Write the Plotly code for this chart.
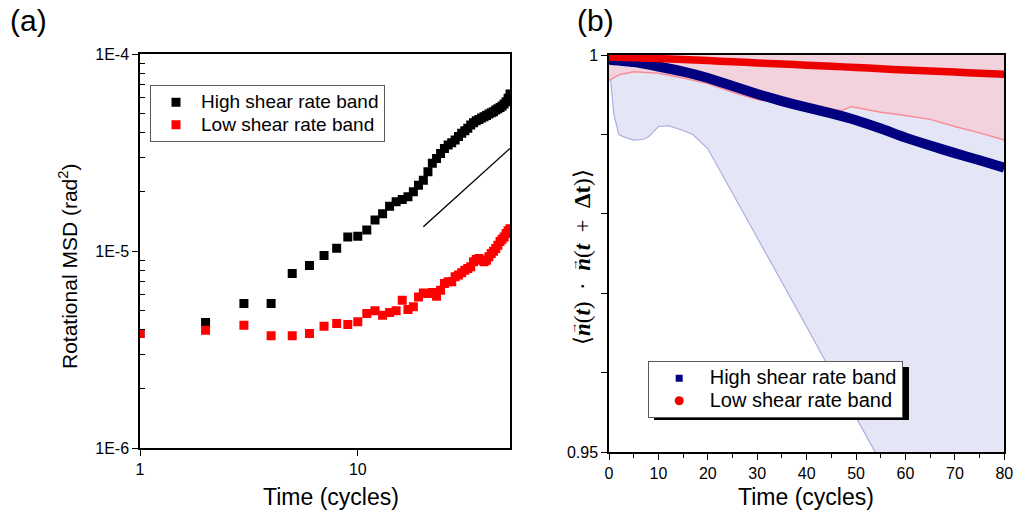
import plotly.graph_objects as go

W, H = 1019, 516
FONT = "Arial, Liberation Sans, sans-serif"
SERIF = "Liberation Serif, Times New Roman, serif"

# ---------------- Panel (a) data : rotational MSD ----------------
cycles_a = list(range(1, 51))
msd_high = [3.82e-6, 4.35e-6, 5.42e-6, 5.42e-6, 7.70e-6, 8.46e-6, 9.51e-6, 1.035e-5, 1.18e-5, 1.19e-5,
            1.28e-5, 1.44e-5, 1.55e-5, 1.69e-5, 1.78e-5, 1.83e-5, 1.89e-5, 2.00e-5, 2.16e-5, 2.29e-5,
            2.53e-5, 2.79e-5, 2.95e-5, 3.13e-5, 3.32e-5, 3.45e-5, 3.55e-5, 3.66e-5, 3.81e-5, 3.96e-5,
            4.08e-5, 4.20e-5, 4.36e-5, 4.48e-5, 4.59e-5, 4.66e-5, 4.73e-5, 4.81e-5, 4.88e-5, 4.96e-5,
            5.04e-5, 5.10e-5, 5.20e-5, 5.28e-5, 5.36e-5, 5.45e-5, 5.58e-5, 5.73e-5, 5.96e-5, 6.27e-5]
msd_low = [3.82e-6, 3.97e-6, 4.21e-6, 3.72e-6, 3.72e-6, 3.82e-6, 4.16e-6, 4.29e-6, 4.24e-6, 4.38e-6,
           4.83e-6, 4.98e-6, 4.73e-6, 4.88e-6, 4.98e-6, 5.64e-6, 5.06e-6, 5.22e-6, 5.86e-6, 6.14e-6,
           6.10e-6, 6.17e-6, 5.91e-6, 6.34e-6, 6.85e-6, 6.99e-6, 6.99e-6, 7.41e-6, 7.56e-6, 7.76e-6,
           8.01e-6, 8.17e-6, 8.33e-6, 8.83e-6, 9.07e-6, 9.18e-6, 9.00e-6, 8.83e-6, 9.00e-6, 9.36e-6,
           9.73e-6, 1.00e-5, 1.03e-5, 1.07e-5, 1.12e-5, 1.15e-5, 1.18e-5, 1.23e-5, 1.27e-5, 1.30e-5]
guide_x = [20, 50]
guide_y = [1.33e-5, 3.32e-5]

a_xticks = [1, 10]
a_xticktext = ["1", "10"]
a_xminor = [2, 3, 4, 5, 6, 7, 8, 9, 20, 30, 40]
a_yticks = [1e-6, 1e-5, 1e-4]
a_yticktext = ["1E-6", "1E-5", "1E-4"]
a_yminor = [2e-6, 3e-6, 4e-6, 5e-6, 6e-6, 7e-6, 8e-6, 9e-6,
            2e-5, 3e-5, 4e-5, 5e-5, 6e-5, 7e-5, 8e-5, 9e-5]

# ---------------- Panel (b) data : orientation correlation ----------------
time_b = [0, 5, 10, 15, 20, 25, 30, 35, 40, 45, 50, 55, 60, 65, 70, 75, 80]
corr_high = [0.9994, 0.9991, 0.99855, 0.9979, 0.9971, 0.9961, 0.9951, 0.9942, 0.9934,
             0.99265, 0.9918, 0.99075, 0.9896, 0.9886, 0.98765, 0.98675, 0.9858]
corr_low = [0.99975, 0.99965, 0.99955, 0.99943, 0.9993, 0.99915, 0.9990, 0.99886, 0.99872,
            0.99858, 0.99843, 0.99828, 0.9981, 0.99798, 0.99785, 0.99771, 0.99757]

band_high_t = [0, 0.5, 1, 2, 3, 5, 7, 8, 10, 12, 15, 17, 20, 30, 40, 50, 60, 70, 80]
band_high_lower = [0.9990, 0.9960, 0.9925, 0.9900, 0.9897, 0.9893, 0.9894, 0.9897, 0.9910, 0.9911,
                   0.9905, 0.9900, 0.9882, 0.9770, 0.9658, 0.9544, 0.9431, 0.9318, 0.9205]
band_high_upper = [0.9997, 1.0022, 1.0058, 1.0082, 1.0085, 1.0088, 1.0085, 1.0082, 1.0060, 1.0057,
                   1.0054, 1.0056, 1.0058, 1.0130, 1.0208, 1.0292, 1.0359, 1.0436, 1.0511]

band_low_t = [0, 2, 5, 10, 15, 20, 25, 30, 35, 40, 45, 47, 49, 50, 55, 60, 65, 70, 75, 80]
band_low_lower = [0.9968, 0.9975, 0.9979, 0.9977, 0.9971, 0.9964, 0.9953, 0.9944, 0.9939, 0.9934,
                  0.9931, 0.9930, 0.9935, 0.9934, 0.9928, 0.9924, 0.9919, 0.9910, 0.9902, 0.9893]
band_low_upper = [1.0027, 1.0018, 1.0014, 1.0014, 1.0018, 1.0022, 1.0030, 1.0036, 1.0038, 1.0040,
                  1.0041, 1.0041, 1.0035, 1.0034, 1.0037, 1.0038, 1.0041, 1.0047, 1.0052, 1.0058]

b_xticks = [0, 10, 20, 30, 40, 50, 60, 70, 80]
b_xminor = [5, 15, 25, 35, 45, 55, 65, 75]
b_yticks = [0.95, 1.0]
b_yticktext = ["0.95", "1"]
b_yminor = [0.96, 0.97, 0.98, 0.99]

names = ["High shear rate band", "Low shear rate band"]

NAVY = "rgb(0,0,128)"
RED = "rgb(236,0,0)"
LAVENDER = "rgb(228,230,246)"
PINK = "rgb(241,210,221)"


def legend_name(s, size):
    return "<span style='font-size:%dpx'>%s</span>" % (size, s)


fig = go.Figure()

# ---- panel (a) ----
fig.add_trace(go.Scatter(x=cycles_a, y=msd_high, mode="markers", name=legend_name(names[0], 19),
                         marker=dict(symbol="square", size=9, color="black"),
                         xaxis="x", yaxis="y", legend="legend"))
fig.add_trace(go.Scatter(x=cycles_a, y=msd_low, mode="markers", name=legend_name(names[1], 19),
                         marker=dict(symbol="square", size=9, color="rgb(255,0,0)"),
                         xaxis="x", yaxis="y", legend="legend"))
fig.add_trace(go.Scatter(x=guide_x, y=guide_y, mode="lines", showlegend=False,
                         line=dict(color="black", width=1.4), xaxis="x", yaxis="y"))

# ---- panel (b) ----
fig.add_trace(go.Scatter(x=band_high_t + band_high_t[::-1],
                         y=band_high_upper + band_high_lower[::-1],
                         fill="toself", fillcolor=LAVENDER, line=dict(width=0),
                         mode="lines", showlegend=False, hoverinfo="skip",
                         xaxis="x2", yaxis="y2"))
fig.add_trace(go.Scatter(x=band_high_t, y=band_high_lower, mode="lines", showlegend=False,
                         line=dict(color="rgb(172,172,226)", width=1.2),
                         xaxis="x2", yaxis="y2"))
fig.add_trace(go.Scatter(x=band_low_t + band_low_t[::-1],
                         y=band_low_upper + band_low_lower[::-1],
                         fill="toself", fillcolor=PINK, line=dict(width=0),
                         mode="lines", showlegend=False, hoverinfo="skip",
                         xaxis="x2", yaxis="y2"))
fig.add_trace(go.Scatter(x=band_low_t, y=band_low_lower, mode="lines", showlegend=False,
                         line=dict(color="rgb(250,140,150)", width=1.5),
                         xaxis="x2", yaxis="y2"))
fig.add_trace(go.Scatter(x=time_b, y=corr_high, mode="lines", showlegend=False,
                         line=dict(color=NAVY, width=10, shape="spline", smoothing=0.5),
                         xaxis="x2", yaxis="y2"))
fig.add_trace(go.Scatter(x=time_b, y=corr_low, mode="lines", showlegend=False,
                         line=dict(color=RED, width=7.5, shape="spline", smoothing=0.5),
                         xaxis="x2", yaxis="y2"))
# legend entries for panel (b)
fig.add_trace(go.Scatter(x=[None], y=[None], mode="markers", name=legend_name(names[0], 20),
                         marker=dict(symbol="square", size=7, color=NAVY),
                         xaxis="x2", yaxis="y2", legend="legend2"))
fig.add_trace(go.Scatter(x=[None], y=[None], mode="markers", name=legend_name(names[1], 20),
                         marker=dict(symbol="circle", size=9, color=RED),
                         xaxis="x2", yaxis="y2", legend="legend2"))


def px_x(p):
    return p / W


def px_y(p):
    return 1 - p / H


axis_common = dict(showgrid=False, zeroline=False, showline=True, linecolor="black",
                   linewidth=1.5, ticks="outside", ticklen=6, tickwidth=1.3, tickcolor="black",
                   automargin=False,
                   tickfont=dict(family=FONT, size=16, color="black"))
overlay_common = dict(showgrid=False, zeroline=False, showline=False, ticks="inside",
                      ticklen=6, tickwidth=1.3, tickcolor="black", showticklabels=False,
                      automargin=False)

a_xrange = [0, 1.69897]
a_yrange = [-6, -4]
b_xrange = [0, 80]
b_yrange = [0.95, 1.0]

fig.update_layout(
    width=W, height=H,
    margin=dict(l=0, r=0, t=0, b=0, autoexpand=False),
    paper_bgcolor="white", plot_bgcolor="white",
    font=dict(family=FONT, color="black"),
    showlegend=True,
    xaxis=dict(axis_common, domain=[px_x(140), px_x(510)], type="log", range=a_xrange,
               tickvals=a_xticks, ticktext=a_xticktext, anchor="y", mirror=True),
    yaxis=dict(axis_common, domain=[px_y(448.3), px_y(54)], type="log", range=a_yrange,
               tickvals=a_yticks, ticktext=a_yticktext, anchor="x", mirror=True,
               minor=dict(tickvals=a_yminor, ticks="inside", ticklen=5, tickwidth=1.2,
                          tickcolor="black", showgrid=False)),
    xaxis3=dict(overlay_common, overlaying="x", side="top", anchor="y", type="log",
                range=a_xrange, tickvals=a_xticks + a_xminor),
    yaxis3=dict(overlay_common, overlaying="y", side="right", anchor="x", type="log",
                range=a_yrange, tickvals=a_yticks + a_yminor),
    xaxis2=dict(axis_common, domain=[px_x(609), px_x(1004.3)], range=b_xrange,
                tickvals=b_xticks, anchor="y2", mirror=True,
                minor=dict(tickvals=b_xminor, ticks="outside", ticklen=4, tickwidth=1.2,
                           tickcolor="black", showgrid=False)),
    yaxis2=dict(axis_common, domain=[px_y(452.3), px_y(55)], range=b_yrange,
                tickvals=b_yticks, ticktext=b_yticktext, anchor="x2", mirror=True,
                minor=dict(tickvals=b_yminor, ticks="outside", ticklen=6, tickwidth=1.3,
                           tickcolor="black", showgrid=False)),
    xaxis4=dict(overlay_common, overlaying="x2", side="top", anchor="y2", range=b_xrange,
                tickvals=b_xticks,
                minor=dict(tickvals=b_xminor, ticks="inside", ticklen=4, tickwidth=1.2,
                           tickcolor="black", showgrid=False)),
    yaxis4=dict(overlay_common, overlaying="y2", side="right", anchor="x2", range=b_yrange,
                tickvals=b_yticks + b_yminor),
    legend=dict(x=px_x(150), y=px_y(85), xanchor="left", yanchor="top",
                bgcolor="white", bordercolor="rgb(90,90,90)", borderwidth=1,
                font=dict(family=FONT, size=15, color="black"), itemwidth=40,
                tracegroupgap=0),
    legend2=dict(x=px_x(647.7), y=px_y(361), xanchor="left", yanchor="top",
                 bgcolor="white", bordercolor="rgb(90,90,90)", borderwidth=1,
                 font=dict(family=FONT, size=15, color="black"), itemwidth=51,
                 tracegroupgap=0),
    shapes=[dict(type="rect", xref="paper", yref="paper",
                 x0=px_x(654), x1=px_x(909), y0=px_y(420), y1=px_y(367),
                 fillcolor="black", line=dict(width=0), layer="above")],
)

ann = []
ann.append(dict(text="(a)", x=px_x(8), y=px_y(2), xref="paper", yref="paper",
                xanchor="left", yanchor="top", showarrow=False,
                font=dict(family=FONT, size=30, color="black")))
ann.append(dict(text="(b)", x=px_x(575), y=px_y(2), xref="paper", yref="paper",
                xanchor="left", yanchor="top", showarrow=False,
                font=dict(family=FONT, size=30, color="black")))
ann.append(dict(text="Time (cycles)", x=px_x(331), y=px_y(497), xref="paper", yref="paper",
                xanchor="center", yanchor="middle", showarrow=False,
                font=dict(family=FONT, size=23, color="black")))
ann.append(dict(text="Time (cycles)", x=px_x(806), y=px_y(497), xref="paper", yref="paper",
                xanchor="center", yanchor="middle", showarrow=False,
                font=dict(family=FONT, size=23, color="black")))
ann.append(dict(text="Rotational MSD (rad<sup>2</sup>)", x=px_x(68), y=px_y(267),
                xref="paper", yref="paper", xanchor="center", yanchor="middle",
                textangle=-90, showarrow=False,
                font=dict(family=FONT, size=21, color="black")))
ann.append(dict(text="⟨<b><i>n</i></b>(<b><i>t</i></b>)\u2002·\u2002<b><i>n</i></b>(<b><i>t</i></b>\u2002+\u2002<b>Δt</b>)⟩",
                x=px_x(582), y=px_y(257), xref="paper", yref="paper",
                xanchor="center", yanchor="middle", textangle=-90, showarrow=False,
                font=dict(family=SERIF, size=23, color="black")))
# vector arrows over the two n symbols
for yy in (328.5, 265.0):
    ann.append(dict(text="→", x=px_x(572.5), y=px_y(yy), xref="paper", yref="paper",
                    xanchor="center", yanchor="middle", textangle=-90, showarrow=False,
                    font=dict(family=FONT, size=13, color="black")))
fig.update_layout(annotations=ann)

fig.write_html("out.html")
